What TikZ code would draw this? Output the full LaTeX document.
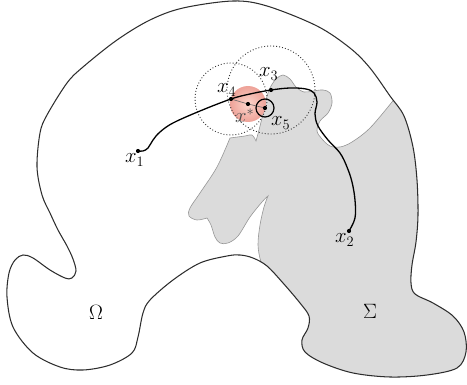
\documentclass[tikz,border=0pt]{standalone}
\definecolor{sigmagrey}{RGB}{219,219,219}
\definecolor{sigmaedge}{RGB}{150,150,150}
\definecolor{outlinec}{RGB}{45,45,45}
\definecolor{pinkin}{RGB}{252,214,204}
\definecolor{pinkout}{RGB}{238,162,152}
\begin{document}
\begin{tikzpicture}[x=1pt,y=-1pt,
  lbl/.style={inner sep=0pt, anchor=base west, font=\fontsize{20}{24}\selectfont},
  region/.style={inner sep=0pt, font=\fontsize{22}{26}\selectfont},
  dotball/.style={dash pattern=on 0.9pt off 2.1pt, line width=0.9pt, black!80},
  dotpt/.style={fill=black},
  thinline/.style={line width=0.6pt, black!60},
  mainpath/.style={line width=1.3pt, black}]
\useasboundingbox (0,0) rectangle (467,385);
\coordinate (x1) at (138,151);
\coordinate (x2) at (349,231);
\coordinate (x3) at (271,90);
\coordinate (x4) at (231,99);
\coordinate (x5) at (265,108);
\coordinate (xs) at (248,104);
\def\omegapath{plot[smooth cycle, tension=0.55] coordinates {(233,1) (267,6) (317,26) (350,48) (370,68) (390,96) (404,116) (413,147) (417,180) (418,215) (416,242) (412,265) (411,283) (415,294) (433,303) (453,316) (464,332) (466,352) (457,368) (427,375) (390,377) (353,373) (323,363) (305,352) (302,340) (308,328) (309,316) (300,303) (283,283) (267,266) (253,258) (240,255) (227,256) (200,263) (173,280) (150,300) (143,313) (138,337) (132,353) (110,365) (83,370) (60,367) (33,353) (13,327) (7,297) (9,273) (15,260) (23,255) (33,258) (50,270) (65,278) (72,278) (76,271) (73,259) (67,246) (58,230) (50,213) (42,195) (37,167) (40,133) (47,115) (67,83) (83,67) (117,40) (150,20) (183,8)}}
% Sigma
\begin{scope}
\clip \omegapath;
\filldraw[fill=sigmagrey, draw=sigmaedge, line width=0.6pt]
  plot[smooth, tension=0.55] coordinates {(268,196) (264,207) (260,225) (258,245) (261,262) (268,278) (290,320)}
  -- (300,395) -- (480,395) -- (480,55) -- (430,55) --
  plot[smooth, tension=0.55] coordinates {(392,102) (370,128) (352,142) (340,147) (330,146) (322,139) (317,131) (320,121) (328,113) (332,103) (330,93) (323,90) (313,91) (304,92) (296,87) (290,79) (283,75) (276,79) (270,88) (266,100) (262,118) (259,130) (256,141)}
  -- plot[smooth, tension=0.55] coordinates {(256,141) (252,135) (245,136) (230,138)}
  -- plot[smooth, tension=0.55] coordinates {(230,138) (217,167) (200,193) (190,208) (189,216) (197,220) (207,218)}
  -- plot[smooth, tension=0.55] coordinates {(207,218) (211,225) (215,237) (220,243) (228,243) (238,236) (250,217) (262,202) (268,196)}
  -- cycle;
\end{scope}
\draw[outlinec, line width=1.05pt] \omegapath;
% pink ball
\shade[inner color=pinkin, outer color=pinkout] (xs) circle[radius=18pt];
% dotted balls
\draw[dotball] (x4) circle[radius=36pt];
\draw[dotball] (x3) circle[radius=44pt];
% thin lines
\draw[thinline] (x4) -- (xs) -- (x5);
\draw[line width=1.2pt] (x5) circle[radius=9pt];
% main path
\draw[mainpath] plot[smooth, tension=0.6] coordinates {(x1) (143,151) (148,148) (153,140) (160,132) (173,123) (200,111) (x4) (250,94) (x3) (290,88) (306,89) (314,93) (317,102) (315,114) (318,126) (328,140) (340,153) (347,167) (352,182) (355,200) (355,218) (x2)};
% points
\foreach \p in {x1,x2,x3,x4,x5,xs} \fill[dotpt] (\p) circle[radius=2.1pt];
% labels
\node[lbl] (l1) at (125,163) {$x_1$};
\node[lbl] (l2) at (335,243) {$x_2$};
\node[lbl] (l3) at (259,77) {$x_3$};
\node[lbl] (l4) at (217,93) {$x_4$};
\node[lbl] (l5) at (271,126) {$x_5$};
\node[lbl, text=black!70] (ls) at (235,123) {$x^*$};
\node[region] (om) at (96,312) {$\Omega$};
\node[region] (sg) at (370,311) {$\Sigma$};
\end{tikzpicture}
\end{document}
